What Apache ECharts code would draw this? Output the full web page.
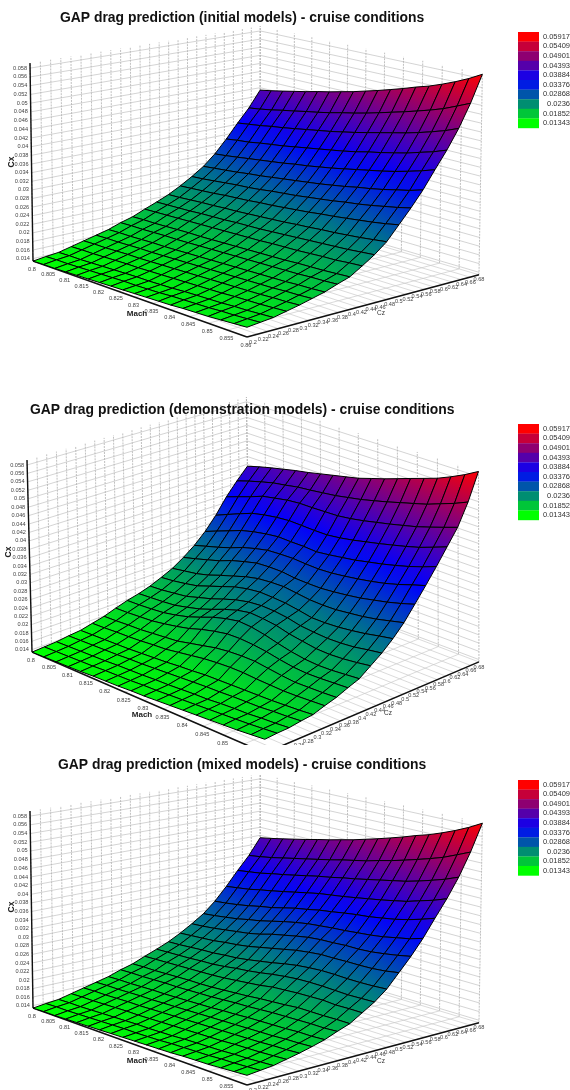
<!DOCTYPE html>
<html><head><meta charset="utf-8">
<style>html,body{margin:0;padding:0;background:#fff}#c{width:570px;height:1090px}</style>
<script src="https://cdn.jsdelivr.net/npm/echarts@6/dist/echarts.min.js"></script>
</head><body><div id="c"></div>
<script>
// ---- tick labels ----
const machTicks=[0.8,0.805,0.81,0.815,0.82,0.825,0.83,0.835,0.84,0.845,0.85,0.855,0.86];
const czTicks=[0.2,0.22,0.24,0.26,0.28,0.3,0.32,0.34,0.36,0.38,0.4,0.42,0.44,0.46,0.48,0.5,0.52,0.54,0.56,0.58,0.6,0.62,0.64,0.66,0.68];
const cxTicks=[0.014,0.016,0.018,0.02,0.022,0.024,0.026,0.028,0.03,0.032,0.034,0.036,0.038,0.04,0.042,0.044,0.046,0.048,0.05,0.052,0.054,0.056,0.058];
const legendLevels=[0.05917,0.05409,0.04901,0.04393,0.03884,0.03376,0.02868,0.0236,0.01852,0.01343];
// ---- surface mesh nodes ----
const machNodes=[0.8,0.8033,0.8067,0.81,0.8133,0.8167,0.82,0.8233,0.8267,0.83,0.8333,0.8367,0.84,0.8433,0.8467,0.85,0.8533,0.8567,0.86];
const czNodes=[0.2,0.2253,0.2505,0.2758,0.3011,0.3263,0.3516,0.3768,0.4021,0.4274,0.4526,0.4779,0.5032,0.5284,0.5537,0.5789,0.6042,0.6295,0.6547,0.68];
const CX_UNIT=1e-4; // surface values below are Cx in units of 1e-4; one row per Mach node, one column per Cz node
const cxInitial=[
[134,138,141,148,155,162,169,179,187,199,210,222,237,254,273,298,329,363,395,434],
[135,139,142,149,156,163,170,180,188,200,211,223,239,256,276,301,333,367,399,439],
[135,139,142,149,156,163,170,180,188,201,212,225,241,259,279,305,336,371,404,445],
[136,140,143,150,157,164,171,181,189,202,213,227,243,262,282,309,341,376,410,451],
[137,141,144,151,158,165,172,182,190,203,215,228,246,265,286,313,345,380,415,457],
[138,142,145,152,158,165,172,182,191,204,216,230,248,267,289,317,349,385,421,464],
[139,143,146,152,159,166,173,183,191,205,217,231,250,270,293,321,354,390,426,470],
[140,144,147,153,160,167,174,184,192,206,219,233,253,274,297,326,359,395,432,477],
[141,144,147,154,161,168,175,185,193,207,220,235,255,277,301,330,364,400,439,484],
[142,145,148,155,162,169,176,186,194,208,221,237,258,280,305,335,369,406,445,492],
[143,146,149,156,163,170,177,187,195,209,223,239,261,284,309,340,374,412,452,500],
[144,148,151,157,164,171,178,188,196,211,225,242,264,288,314,346,380,419,460,509],
[145,149,152,158,165,172,179,189,197,212,227,244,268,292,319,352,387,426,468,518],
[147,150,153,159,166,173,180,190,198,213,229,247,271,297,325,358,393,433,476,528],
[148,151,154,161,167,174,181,191,200,215,231,249,275,301,330,364,400,440,485,537],
[149,153,156,162,168,175,182,192,201,217,233,252,279,306,336,371,407,448,494,548],
[151,154,157,163,170,177,184,194,202,218,235,255,283,312,343,379,416,457,504,560],
[153,156,159,165,171,178,185,195,204,221,238,259,288,318,350,388,425,467,517,574],
[155,158,161,167,173,180,187,197,206,223,241,263,294,325,359,398,436,479,530,590]];
const cxDemonstration=[
[134,136,138,142,145,152,159,169,178,185,194,206,219,237,258,284,316,354,386,415],
[135,137,139,143,146,153,160,170,179,187,196,209,224,245,267,296,329,365,396,424],
[136,138,140,144,147,155,162,172,181,189,200,214,229,254,276,308,342,376,405,432],
[137,139,141,145,148,156,163,174,184,192,204,220,237,263,286,320,354,388,413,439],
[138,140,142,146,149,158,166,179,190,199,213,231,248,275,298,328,361,394,418,446],
[140,142,144,148,151,161,169,185,198,207,222,242,258,284,307,334,366,400,424,452],
[141,143,145,149,153,163,172,192,209,218,233,253,268,292,314,338,369,403,427,459],
[142,144,146,151,155,168,179,202,221,230,243,260,275,294,316,337,368,403,431,466],
[144,146,148,153,158,173,186,210,230,240,250,264,278,294,317,337,367,404,435,473],
[145,147,149,155,160,178,193,216,236,246,253,263,279,290,315,335,367,405,441,480],
[147,149,151,157,163,181,197,217,234,244,252,261,275,289,314,339,371,409,447,490],
[149,151,153,159,164,183,199,215,228,240,248,256,271,289,316,344,377,415,455,500],
[151,153,154,160,165,183,199,211,220,232,241,250,270,292,320,349,384,422,463,511],
[153,155,157,162,166,181,195,205,213,227,238,250,271,296,325,356,391,429,472,522],
[155,157,159,163,167,180,191,200,208,222,236,252,275,301,331,363,399,437,481,533],
[157,159,160,164,168,179,188,198,206,221,237,256,279,308,338,371,407,445,490,544],
[159,161,163,167,170,180,189,199,207,223,240,261,285,315,347,380,416,455,502,558],
[162,164,165,169,172,182,190,201,210,227,246,268,293,324,358,391,428,466,514,574],
[165,167,168,172,175,184,192,203,213,232,251,274,301,334,368,403,440,477,528,592]];
const cxMixed=[
[134,138,141,148,155,162,169,179,187,199,210,222,237,254,273,298,329,363,395,434],
[135,139,142,149,156,163,170,180,188,200,211,223,239,256,276,301,333,367,399,439],
[135,139,142,149,156,163,170,180,188,201,212,225,241,259,280,305,337,371,404,445],
[136,140,143,150,157,164,171,181,189,202,213,227,243,263,284,310,343,377,410,451],
[137,141,144,151,158,165,172,182,190,203,215,228,247,267,290,316,348,382,416,457],
[138,142,145,152,158,165,172,182,191,204,216,231,250,271,295,321,354,388,422,464],
[139,143,146,152,159,166,173,183,191,205,219,233,254,277,302,328,360,394,428,470],
[140,144,147,153,160,167,174,184,192,207,223,237,260,285,309,335,366,400,434,477],
[141,144,147,154,161,168,175,185,194,210,226,242,266,291,315,340,372,405,441,484],
[142,145,148,155,162,169,176,187,196,213,230,247,272,297,320,346,376,411,447,492],
[143,146,149,156,163,170,178,189,198,216,235,253,278,302,323,350,380,416,453,500],
[144,148,151,157,164,171,179,190,201,221,239,258,282,305,326,355,385,422,461,509],
[145,149,152,158,165,172,181,192,203,223,242,261,285,306,328,359,390,428,468,518],
[147,150,153,159,166,173,182,194,205,225,243,263,285,308,331,362,395,434,476,528],
[148,151,154,161,167,174,183,195,208,226,243,263,286,308,334,367,401,440,485,537],
[149,153,156,162,168,175,184,196,208,227,242,262,286,310,338,372,407,448,494,548],
[151,154,157,163,170,177,186,197,208,225,241,262,287,314,344,379,416,457,504,560],
[153,156,159,165,171,178,186,197,209,226,242,263,290,319,350,388,425,467,517,574],
[155,158,161,167,173,180,188,199,209,226,243,265,295,325,359,398,436,479,530,590]];

// ---- layout and style (pixels) ----
const FONT='"Liberation Sans",Arial,sans-serif';
const zMin=legendLevels[legendLevels.length-1], zMax=legendLevels[0];
const panels=[
 {title:'GAP drag prediction (initial models) - cruise conditions',titleLeft:60,titleTop:11,values:cxInitial,
  O:[33,261],A:[247,337],B:[260,210],C:[30,63],wu:.903,wv:1.08,wt:.986,
  cx:[12,162],mach:[137,314],cz:[381,313],legendTop:32,legendStep:9.6},
 {title:'GAP drag prediction (demonstration models) - cruise conditions',titleLeft:30,titleTop:403,values:cxDemonstration,
  O:[32,652],A:[265,753],B:[249,575],C:[27,460],wu:.925,wv:1.083,wt:.99,
  cx:[9,552],mach:[142,715],cz:[388,713],legendTop:424,legendStep:9.6},
 {title:'GAP drag prediction (mixed models) - cruise conditions',titleLeft:58,titleTop:758,values:cxMixed,
  O:[33,1008],A:[247,1085],B:[260,957],C:[30,811],wu:.903,wv:1.08,wt:.986,
  cx:[12,907],mach:[137,1061],cz:[381,1061],legendTop:780,legendStep:9.55}];

const mach0=machTicks[0],mach1=machTicks[machTicks.length-1],cz0=czTicks[0],cz1=czTicks[czTicks.length-1];
function project(p,m,c,z){
 const u=(m-mach0)/(mach1-mach0),v=(c-cz0)/(cz1-cz0),t=(z-zMin)/(zMax-zMin);
 const w=1+u*(p.wu-1)+v*(p.wv-1)+t*(p.wt-1);
 return [0,1].map(k=>(p.O[k]+u*(p.wu*p.A[k]-p.O[k])+v*(p.wv*p.B[k]-p.O[k])+t*(p.wt*p.C[k]-p.O[k]))/w);
}
const ramp=['#00ff00','#0000ff','#ff0000'];
const colorOf=z=>echarts.color.lerp(Math.min(1,Math.max(0,(z-zMin)/(zMax-zMin))),ramp);

function gridSeries(p){
 const d=[];
 const add=(a,b,kind)=>d.push([...a,...b,kind]);
 cxTicks.forEach(z=>{add([mach0,cz0,z],[mach0,cz1,z],0);add([mach0,cz1,z],[mach1,cz1,z],0);});
 czTicks.forEach(c=>{add([mach0,c,zMin],[mach0,c,zMax],1);add([mach0,c,zMin],[mach1,c,zMin],2);});
 machTicks.forEach(m=>{add([m,cz1,zMin],[m,cz1,zMax],1);add([m,cz0,zMin],[m,cz1,zMin],2);});
 add([mach0,cz0,zMin],[mach0,cz0,zMax],3);add([mach0,cz0,zMin],[mach1,cz0,zMin],3);add([mach1,cz0,zMin],[mach1,cz1,zMin],3);
 d.sort((a,b)=>a[6]-b[6]);
 return {type:'custom',coordinateSystem:'cartesian2d',silent:true,animation:false,clip:false,progressive:0,data:d,encode:{x:0,y:1},
  renderItem(_,api){
   const v=k=>api.value(k),a=api.coord(project(p,v(0),v(1),v(2))),b=api.coord(project(p,v(3),v(4),v(5))),kind=v(6);
   const st=[{stroke:'#c2c2c2',lineWidth:.7,lineDash:null},{stroke:'#b0b0b0',lineWidth:.8,lineDash:[2,1]},{stroke:'#cacaca',lineWidth:.7,lineDash:null},{stroke:'#111',lineWidth:1.4,lineDash:null}][kind];
   return {type:'line',shape:{x1:a[0],y1:a[1],x2:b[0],y2:b[1]},style:{...st,fill:null}};
  }};
}
function surfaceSeries(p){
 const d=[],V=p.values;
 for(let j=czNodes.length-2;j>=0;j--)for(let i=0;i<machNodes.length-1;i++){
  d.push([machNodes[i],czNodes[j],machNodes[i+1],czNodes[j+1],V[i][j]*CX_UNIT,V[i][j+1]*CX_UNIT,V[i+1][j+1]*CX_UNIT,V[i+1][j]*CX_UNIT]);
 }
 return {type:'custom',coordinateSystem:'cartesian2d',silent:true,animation:false,clip:false,progressive:0,data:d,encode:{x:0,y:1},
  renderItem(_,api){
   const v=k=>api.value(k),m0=v(0),c0=v(1),m1=v(2),c1=v(3),z=[v(4),v(5),v(6),v(7)];
   const pts=[[m0,c0],[m0,c1],[m1,c1],[m1,c0]].map((q,k)=>api.coord(project(p,q[0],q[1],z[k])));
   const lo=[(pts[0][0]+pts[3][0])/2,(pts[0][1]+pts[3][1])/2],hi=[(pts[1][0]+pts[2][0])/2,(pts[1][1]+pts[2][1])/2];
   const fill=new echarts.graphic.LinearGradient(lo[0],lo[1],hi[0],hi[1],[{offset:0,color:colorOf((z[0]+z[3])/2)},{offset:1,color:colorOf((z[1]+z[2])/2)}],true);
   return {type:'polygon',shape:{points:pts},style:{fill,stroke:'#000',lineWidth:1,lineJoin:'round'}};
  }};
}
function labelSeries(p){
 const d=[];
 cxTicks.forEach(z=>{const q=project(p,mach0,cz0,z);d.push({t:String(z),x:q[0]-3,y:q[1],al:'right',f:'5.6px '+FONT,c:'#444'});});
 machTicks.forEach(m=>{const q=project(p,m,cz0,zMin);d.push({t:String(m),x:q[0]-1,y:q[1]+8,al:'center',f:'5.6px '+FONT,c:'#444'});});
 czTicks.forEach((c,n)=>{const q=project(p,mach1,c,zMin);d.push({t:String(c),x:q[0]+6*(1-n/24),y:q[1]+5,al:'center',f:'5.6px '+FONT,c:'#444'});});
 d.push({t:'Mach',x:p.mach[0],y:p.mach[1],al:'center',f:'bold 8px '+FONT,c:'#222'});
 d.push({t:'Cz',x:p.cz[0],y:p.cz[1],al:'center',f:'6.5px '+FONT,c:'#333'});
 d.push({t:'Cx',x:p.cx[0],y:p.cx[1],al:'center',f:'bold 8.5px '+FONT,c:'#222',r:Math.PI/2});
 legendLevels.forEach((L,n)=>d.push({t:String(L),x:570,y:p.legendTop+(n+.5)*p.legendStep,al:'right',f:'7.5px '+FONT,c:'#333'}));
 return {type:'custom',coordinateSystem:'cartesian2d',silent:true,animation:false,clip:false,progressive:0,
  data:d.map((o,i)=>[o.x,o.y,i]),encode:{x:0,y:1},
  renderItem(_,api){
   const o=d[api.value(2)],a=api.coord([o.x,o.y]);
   return {type:'text',x:a[0],y:a[1],rotation:o.r||0,style:{text:o.t,font:o.f,fill:o.c,align:o.al,verticalAlign:'middle'}};
  }};
}
function legendSeries(p){
 return {type:'custom',coordinateSystem:'cartesian2d',silent:true,animation:false,clip:false,progressive:0,
  data:legendLevels.map((L,n)=>[518,p.legendTop+n*p.legendStep,L]),encode:{x:0,y:1},
  renderItem(_,api){
   const a=api.coord([api.value(0),api.value(1)]);
   return {type:'rect',shape:{x:a[0],y:a[1],width:21,height:p.legendStep+.2},style:{fill:colorOf(api.value(2))}};
  }};
}
const maskSeries={type:'custom',coordinateSystem:'cartesian2d',silent:true,animation:false,clip:false,data:[[0,745]],encode:{x:0,y:1},
 renderItem(_,api){const a=api.coord([0,745]);return {type:'rect',shape:{x:a[0],y:a[1],width:570,height:25},style:{fill:'#fff'}};}};

const series=[];
panels.forEach((p,ip)=>{
 series.push(gridSeries(p),surfaceSeries(p),labelSeries(p),legendSeries(p));
 if(ip===1)series.push(maskSeries);
});
const chart=echarts.init(document.getElementById('c'),null,{renderer:'canvas'});
chart.setOption({
 animation:false,backgroundColor:'#fff',
 title:panels.map(p=>({text:p.title,left:p.titleLeft,top:p.titleTop,padding:0,textStyle:{fontFamily:FONT,fontWeight:'bold',fontSize:13.9,color:'#111',lineHeight:14}})),
 grid:{left:0,right:0,top:0,bottom:0,containLabel:false},
 xAxis:{type:'value',min:0,max:570,show:false},
 yAxis:{type:'value',min:0,max:1090,inverse:true,show:false},
 series
});
</script></body></html>
